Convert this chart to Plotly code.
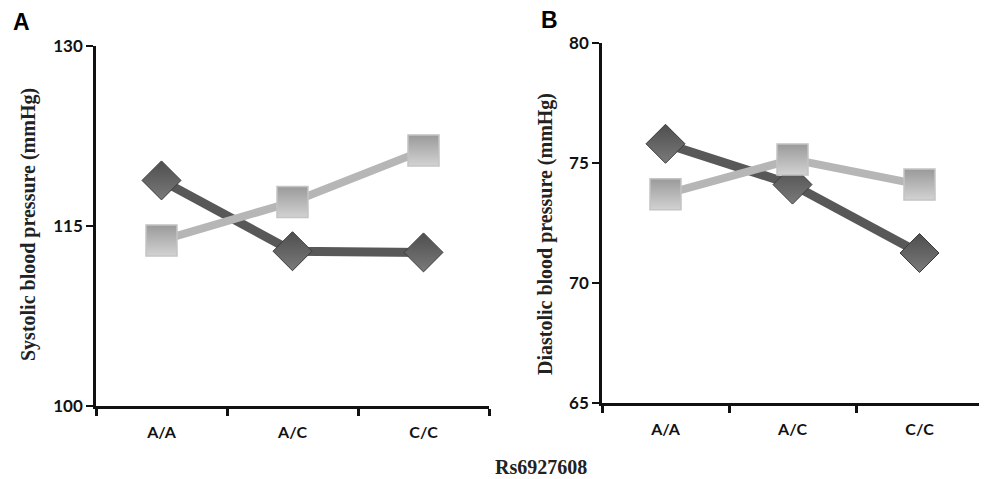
import plotly.graph_objects as go

genotypes = ["A/A", "A/C", "C/C"]
systolic_dark = [118.8, 112.9, 112.8]
systolic_light = [113.8, 117.0, 121.3]
diastolic_dark = [75.8, 74.1, 71.25]
diastolic_light = [73.7, 75.15, 74.1]
sys_ticks = [100, 115, 130]
dia_ticks = [65, 70, 75, 80]

# page offset (body margin) compensation
OFF = 8
W, H = 987 - OFF, 479 - OFF

def px(x):
    return (x - OFF) / W

def py(y):
    return 1 - (y - OFF) / H

DARK_LINE = "#585858"
DARK_MARK = "#4e4e4e"
LIGHT_LINE = "#b6b6b6"

fig = go.Figure()

def add_pair(xa, ya, dark, light):
    fig.add_trace(go.Scatter(
        x=genotypes, y=dark, xaxis=xa, yaxis=ya, mode="lines+markers",
        line=dict(color=DARK_LINE, width=9),
        marker=dict(symbol="diamond", size=30, color=DARK_MARK,
                    gradient=dict(type="vertical", color="#7a7a7a"),
                    line=dict(color="#3c3c3c", width=1)),
        showlegend=False, cliponaxis=False))
    fig.add_trace(go.Scatter(
        x=genotypes, y=light, xaxis=xa, yaxis=ya, mode="lines+markers",
        line=dict(color=LIGHT_LINE, width=8),
        marker=dict(symbol="square", size=31, color="#9a9a9a",
                    gradient=dict(type="vertical", color="#d2d2d2"),
                    line=dict(color="#c4c4c4", width=1.5)),
        showlegend=False, cliponaxis=False))

add_pair("x", "y", systolic_dark, systolic_light)
add_pair("x2", "y2", diastolic_dark, diastolic_light)

ytickfont = dict(family="Lato, 'Open Sans', sans-serif", size=17, color="#111", weight="bold")
xtickfont = dict(family="Lato, 'Open Sans', sans-serif", size=16, color="#111", weight="bold")
xcommon = dict(type="category", range=[-0.5, 2.5], tickson="boundaries",
               ticks="outside", ticklen=7, tickwidth=2.5, tickcolor="#111",
               showline=True, linecolor="#111", linewidth=2.5, showgrid=False,
               zeroline=False, tickfont=xtickfont, fixedrange=True,
               automargin=False, ticklabelstandoff=10)
ycommon = dict(ticks="outside", ticklen=7, tickwidth=2, tickcolor="#111",
               showline=True, linecolor="#111", linewidth=2.5, showgrid=False,
               zeroline=False, tickfont=ytickfont, fixedrange=True,
               automargin=False)

fig.update_layout(
    width=W, height=H, autosize=False,
    margin=dict(l=0, r=0, t=0, b=0, pad=0),
    paper_bgcolor="white", plot_bgcolor="white",
    xaxis=dict(domain=[px(96), px(489)], anchor="y", **xcommon),
    yaxis=dict(domain=[py(406), py(46)], anchor="x", range=[100, 130],
               tickvals=sys_ticks, **ycommon),
    xaxis2=dict(domain=[px(602), px(983)], anchor="y2", **xcommon),
    yaxis2=dict(domain=[py(403), py(43)], anchor="x2", range=[65, 80],
                tickvals=dia_ticks, **ycommon),
)

serif = "'Liberation Serif', 'Times New Roman', serif"
ann = [
    dict(text="<b>A</b>", x=px(11), y=py(22), xanchor="left", yanchor="middle",
         font=dict(family="Liberation Sans, Arial", size=23, color="#000")),
    dict(text="<b>B</b>", x=px(539), y=py(20), xanchor="left", yanchor="middle",
         font=dict(family="Liberation Sans, Arial", size=23, color="#000")),
    dict(text="<b>Systolic blood pressure (mmHg)</b>", x=px(28), y=py(225),
         textangle=-90, xanchor="center", yanchor="middle",
         font=dict(family=serif, size=20, color="#222")),
    dict(text="<b>Diastolic blood pressure (mmHg)</b>", x=px(545), y=py(234),
         textangle=-90, xanchor="center", yanchor="middle",
         font=dict(family=serif, size=20, color="#222")),
    dict(text="<b>Rs6927608</b>", x=px(541), y=py(467),
         xanchor="center", yanchor="middle",
         font=dict(family=serif, size=20, color="#222")),
]
for a in ann:
    a.update(xref="paper", yref="paper", showarrow=False)
fig.update_layout(annotations=ann)

fig.write_html("out.html")
